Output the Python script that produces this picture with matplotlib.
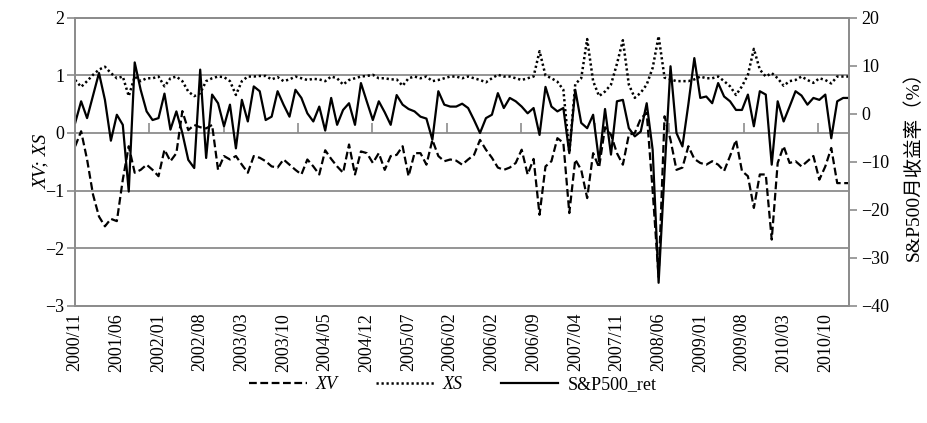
import numpy as np
import matplotlib.pyplot as plt

# monthly series, 2000/11 onwards
xv = [-0.23, 0.03, -0.46, -1.07, -1.45, -1.62, -1.49, -1.53, -0.81, -0.23,
      -0.69, -0.64, -0.55, -0.64, -0.75, -0.29, -0.49, -0.35, 0.38, 0.05,
      0.14, 0.10, 0.08, 0.14, -0.64, -0.40, -0.46, -0.40, -0.55, -0.69,
      -0.40, -0.43, -0.49, -0.58, -0.60, -0.46, -0.55, -0.64, -0.72, -0.46,
      -0.58, -0.72, -0.30, -0.45, -0.58, -0.69, -0.20, -0.72, -0.32, -0.35,
      -0.52, -0.35, -0.64, -0.40, -0.38, -0.23, -0.75, -0.35, -0.35, -0.55,
      -0.12, -0.40, -0.49, -0.46, -0.48, -0.55, -0.46, -0.38, -0.12, -0.29,
      -0.43, -0.60, -0.64, -0.60, -0.52, -0.29, -0.72, -0.45, -1.42, -0.58,
      -0.49, -0.09, -0.17, -1.39, -0.46, -0.64, -1.13, -0.35, -0.60, 0.10,
      -0.03, -0.35, -0.55, -0.03, 0.00, 0.25, 0.35, -1.00, -2.50, 0.29,
      -0.12, -0.64, -0.60, -0.23, -0.45, -0.52, -0.55, -0.49, -0.55, -0.66,
      -0.40, -0.12, -0.66, -0.75, -1.30, -0.72, -0.72, -1.85, -0.52, -0.23,
      -0.52, -0.49, -0.58, -0.49, -0.40, -0.81, -0.58, -0.26, -0.87, -0.87,
      -0.87]

xs = [0.92, 0.80, 0.90, 1.01, 1.10, 1.15, 1.04, 0.95, 0.98, 0.64,
      0.98, 0.90, 0.95, 0.95, 0.98, 0.81, 0.95, 0.98, 0.90, 0.72,
      0.64, 0.69, 0.90, 0.95, 0.98, 0.97, 0.90, 0.66, 0.90, 0.98,
      0.98, 0.99, 0.99, 0.93, 0.97, 0.90, 0.93, 0.98, 0.95, 0.92,
      0.94, 0.93, 0.90, 0.98, 0.95, 0.84, 0.92, 0.95, 0.98, 0.99,
      1.01, 0.95, 0.95, 0.93, 0.93, 0.82, 0.95, 0.98, 0.95, 0.98,
      0.90, 0.92, 0.95, 0.98, 0.98, 0.95, 0.98, 0.95, 0.92, 0.88,
      0.95, 1.01, 0.98, 0.98, 0.95, 0.92, 0.95, 0.98, 1.42, 1.00,
      0.95, 0.89, 0.75, -0.34, 0.85, 0.95, 1.63, 0.90, 0.64, 0.72,
      0.84, 1.20, 1.61, 0.84, 0.61, 0.70, 0.84, 1.13, 1.68, 0.96,
      0.93, 0.90, 0.90, 0.90, 0.93, 0.98, 0.95, 0.95, 0.98, 0.90,
      0.81, 0.66, 0.81, 1.01, 1.46, 1.10, 0.98, 1.04, 0.95, 0.82,
      0.90, 0.92, 0.98, 0.92, 0.87, 0.95, 0.92, 0.86, 0.98, 0.98,
      0.98]

sp_ret = [-1.9, 2.6, -0.9, 3.8, 8.5, 2.9, -5.6, -0.2, -2.3, -16.2,
          10.7, 5.0, 0.5, -1.3, -0.9, 4.2, -3.3, 0.5, -4.0, -9.6,
          -11.3, 9.2, -9.2, 4.0, 2.2, -2.6, 1.9, -7.2, 2.9, -1.6,
          5.7, 4.7, -1.3, -0.6, 4.7, 1.9, -0.6, 5.0, 3.3, 0.1,
          -1.6, 1.5, -3.5, 3.3, -2.3, 0.8, 2.2, -2.3, 6.4, 2.5,
          -1.3, 2.6, 0.3, -2.3, 3.9, 1.9, 1.0, 0.5, -0.6, -1.0,
          -5.4, 4.7, 1.9, 1.5, 1.5, 2.1, 1.2, -1.3, -4.0, -0.9,
          -0.2, 4.3, 1.2, 3.3, 2.6, 1.5, 0.1, 1.2, -4.4, 5.6,
          1.5, 0.5, 1.2, -8.2, 5.0, -1.9, -3.0, -0.2, -9.9, 1.0,
          -8.5, 2.6, 2.9, -3.0, -4.7, -3.7, 2.2, -7.5, -35.2, -12.0,
          9.9, -4.0, -6.8, 2.0, 11.6, 3.3, 3.6, 2.2, 6.4, 3.6,
          2.6, 0.8, 0.8, 4.0, -2.6, 4.7, 4.0, -10.6, 2.6, -1.6,
          1.5, 4.7, 3.8, 1.9, 3.3, 2.9, 4.0, -5.1, 2.6, 3.3,
          3.3]

tick_labels = ['2000/11', '2001/06', '2002/01', '2002/08', '2003/03', '2003/10',
               '2004/05', '2004/12', '2005/07', '2006/02', '2006/02', '2006/09',
               '2007/04', '2007/11', '2008/06', '2009/01', '2009/08', '2010/03',
               '2010/10']

months = np.arange(len(xv))
grey = '#8c8c8c'

plt.rcParams['font.family'] = ['Liberation Serif', 'Noto Sans CJK SC']
plt.rcParams['font.size'] = 13

fig = plt.figure(figsize=(9.28, 4.23), dpi=100)
ax = fig.add_axes([0.081, 0.277, 0.834, 0.681])
ax2 = ax.twinx()

l1, = ax.plot(months, xv, color='black', lw=1.6, ls=(0, (3.5, 1.6)), label='XV')
l2, = ax.plot(months, xs, color='black', lw=1.8, ls=(0, (0.9, 1.1)), label='XS')
l3, = ax2.plot(months, sp_ret, color='black', lw=1.6, label='S&P500_ret')

ax.set_xlim(0, len(xv) - 1)
ax.set_ylim(-3, 2)
ax.set_yticks(range(-3, 3))
ax.yaxis.grid(True, color=grey, lw=1.3)
ax.set_axisbelow(True)
ax.set_xticks(range(0, len(xv), 7))
ax.set_xticklabels(tick_labels, rotation=90)
ax.tick_params(axis='x', length=0, pad=5)
ax.tick_params(axis='y', length=6, color=grey, width=1.2, pad=2)
ax.set_ylabel('XV; XS', style='italic', fontsize=14, labelpad=-4)

# small ticks along the zero line
zero_ticks = np.arange(1, 11) * len(xv) / 10.5
ax.vlines(zero_ticks, 0, 0.17, color=grey, lw=1.2)

ax2.set_ylim(-40, 20)
ax2.set_yticks(range(-40, 21, 10))
ax2.tick_params(axis='y', length=6, color=grey, width=1.2, pad=3)
ax2.set_ylabel('S&P500月收益率（%）', rotation=90, fontsize=14, labelpad=10)

for a in (ax, ax2):
    for s in a.spines.values():
        s.set_color(grey)
        s.set_linewidth(1.3)

leg = fig.legend(handles=[l1, l2, l3], loc='center', bbox_to_anchor=(0.488, 0.09),
                 ncol=3, frameon=False, handlelength=3.2, columnspacing=2.1,
                 handletextpad=0.5)
leg.get_texts()[0].set_style('italic')
leg.get_texts()[1].set_style('italic')

fig.savefig('out.png', dpi=100)
